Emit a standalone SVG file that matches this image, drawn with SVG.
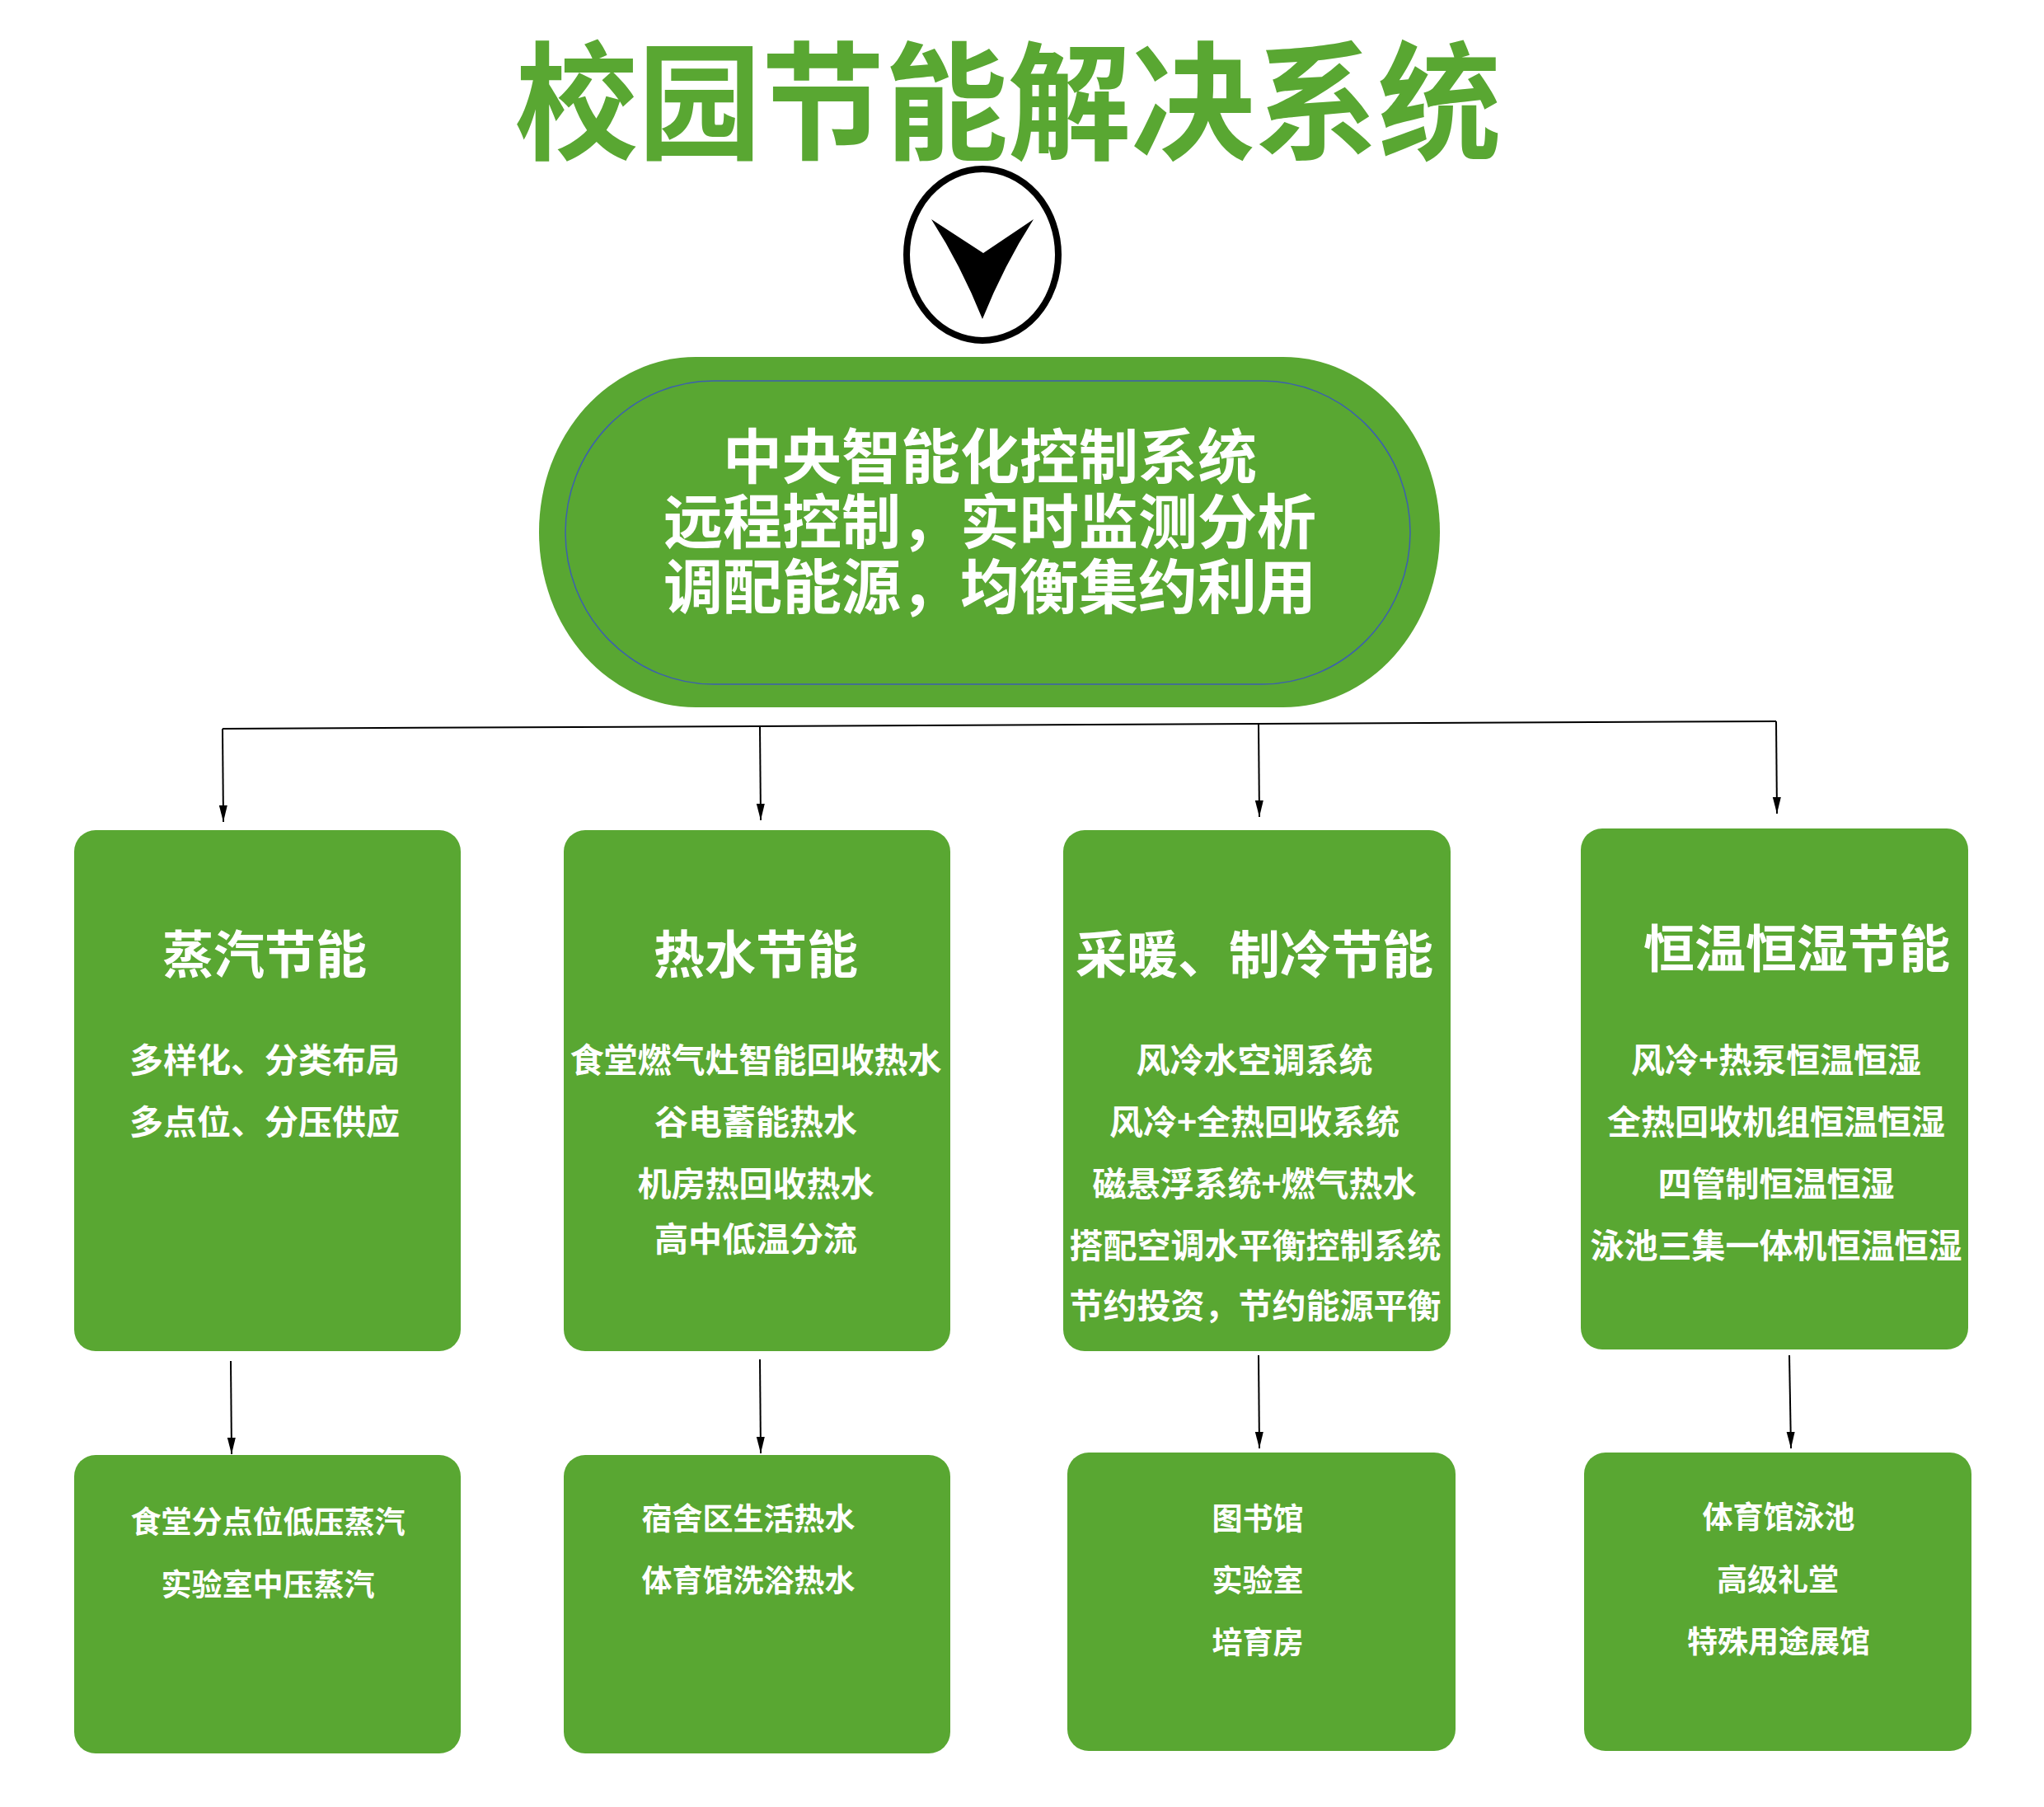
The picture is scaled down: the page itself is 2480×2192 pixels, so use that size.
<svg xmlns="http://www.w3.org/2000/svg" width="2480" height="2192" viewBox="0 0 2480 2192">
<style>
.t{font-family:"Noto Sans CJK SC","Noto Sans",sans-serif;font-weight:700;text-anchor:middle}
.w{fill:#ffffff}
.h{font-size:62px}
.i{font-size:41px}
.s{font-size:37px}
.box{fill:#59a732}
.con{stroke:#000;stroke-width:2;fill:none}
</style>
<defs>
<marker id="arr" markerUnits="userSpaceOnUse" markerWidth="22" markerHeight="12" refX="20" refY="5" orient="auto" viewBox="0 0 22 12">
<path d="M0,0 L20,5 L0,10 z" fill="#000"/>
</marker>
</defs>
<rect width="2480" height="2192" fill="#ffffff"/>
<g id="title">
<text class="t" x="1223" y="181" font-size="155" fill="#59a732" textLength="1197" lengthAdjust="spacingAndGlyphs" font-weight="900">校园节能解决系统</text>
</g>
<g id="down-symbol">
<ellipse cx="1192" cy="309" rx="92" ry="104" fill="#ffffff" stroke="#000" stroke-width="8"/>
<path d="M1130,266 L1193,307 L1254,266 Q1218,322 1192,387 Q1166,322 1130,266 z" fill="#000"/>
</g>
<g id="central">
<rect x="654" y="433" width="1093" height="425" rx="190" ry="212" class="box"/>
<rect x="686" y="462" width="1025" height="368" rx="180" ry="184" fill="none" stroke="#3c5fb0" stroke-width="1.5"/>
<text class="t w" x="1201" y="580" font-size="72">中央智能化控制系统</text>
<text class="t w" x="1201" y="659" font-size="72">远程控制，实时监测分析</text>
<text class="t w" x="1201" y="738" font-size="72">调配能源，均衡集约利用</text>
</g>
<g id="connectors">
<path class="con" d="M270,884 L2155,875"/>
<path class="con" d="M270,884 L271,997" marker-end="url(#arr)"/>
<path class="con" d="M922,882 L923,995" marker-end="url(#arr)"/>
<path class="con" d="M1527,878 L1528,991" marker-end="url(#arr)"/>
<path class="con" d="M2155,875 L2156,987" marker-end="url(#arr)"/>
<path class="con" d="M280,1651 L281,1764" marker-end="url(#arr)"/>
<path class="con" d="M922,1649 L923,1763" marker-end="url(#arr)"/>
<path class="con" d="M1527,1644 L1528,1757" marker-end="url(#arr)"/>
<path class="con" d="M2171,1644 L2173,1757" marker-end="url(#arr)"/>
</g>
<g id="steam">
<rect x="90" y="1007" width="469" height="632" rx="26" class="box"/>
<text class="t w h" x="321" y="1181">蒸汽节能</text>
<text class="t w i" x="321" y="1301">多样化、分类布局</text>
<text class="t w i" x="321" y="1376">多点位、分压供应</text>
</g>
<g id="hotwater">
<rect x="684" y="1007" width="469" height="632" rx="26" class="box"/>
<text class="t w h" x="917" y="1181">热水节能</text>
<text class="t w i" x="917" y="1301">食堂燃气灶智能回收热水</text>
<text class="t w i" x="917" y="1376">谷电蓄能热水</text>
<text class="t w i" x="917" y="1451">机房热回收热水</text>
<text class="t w i" x="917" y="1518">高中低温分流</text>
</g>
<g id="heating">
<rect x="1290" y="1007" width="470" height="632" rx="26" class="box"/>
<text class="t w h" x="1522" y="1181">采暖、制冷节能</text>
<text class="t w i" x="1522" y="1301">风冷水空调系统</text>
<text class="t w i" x="1522" y="1376">风冷+全热回收系统</text>
<text class="t w i" x="1522" y="1451">磁悬浮系统+燃气热水</text>
<text class="t w i" x="1523" y="1526">搭配空调水平衡控制系统</text>
<text class="t w i" x="1523" y="1599">节约投资，节约能源平衡</text>
</g>
<g id="humidity">
<rect x="1918" y="1005" width="470" height="632" rx="26" class="box"/>
<text class="t w h" x="2180" y="1174">恒温恒湿节能</text>
<text class="t w i" x="2155" y="1301">风冷+热泵恒温恒湿</text>
<text class="t w i" x="2155" y="1376">全热回收机组恒温恒湿</text>
<text class="t w i" x="2155" y="1451">四管制恒温恒湿</text>
<text class="t w i" x="2155" y="1526">泳池三集一体机恒温恒湿</text>
</g>
<g id="steam-use">
<rect x="90" y="1765" width="469" height="362" rx="26" class="box"/>
<text class="t w s" x="325" y="1860">食堂分点位低压蒸汽</text>
<text class="t w s" x="325" y="1936">实验室中压蒸汽</text>
</g>
<g id="hotwater-use">
<rect x="684" y="1765" width="469" height="362" rx="26" class="box"/>
<text class="t w s" x="908" y="1856">宿舍区生活热水</text>
<text class="t w s" x="908" y="1931">体育馆洗浴热水</text>
</g>
<g id="heating-use">
<rect x="1295" y="1762" width="471" height="362" rx="26" class="box"/>
<text class="t w s" x="1526" y="1856">图书馆</text>
<text class="t w s" x="1526" y="1931">实验室</text>
<text class="t w s" x="1526" y="2006">培育房</text>
</g>
<g id="humidity-use">
<rect x="1922" y="1762" width="470" height="362" rx="26" class="box"/>
<text class="t w s" x="2158" y="1854">体育馆泳池</text>
<text class="t w s" x="2157" y="1930">高级礼堂</text>
<text class="t w s" x="2158" y="2005">特殊用途展馆</text>
</g>
</svg>
